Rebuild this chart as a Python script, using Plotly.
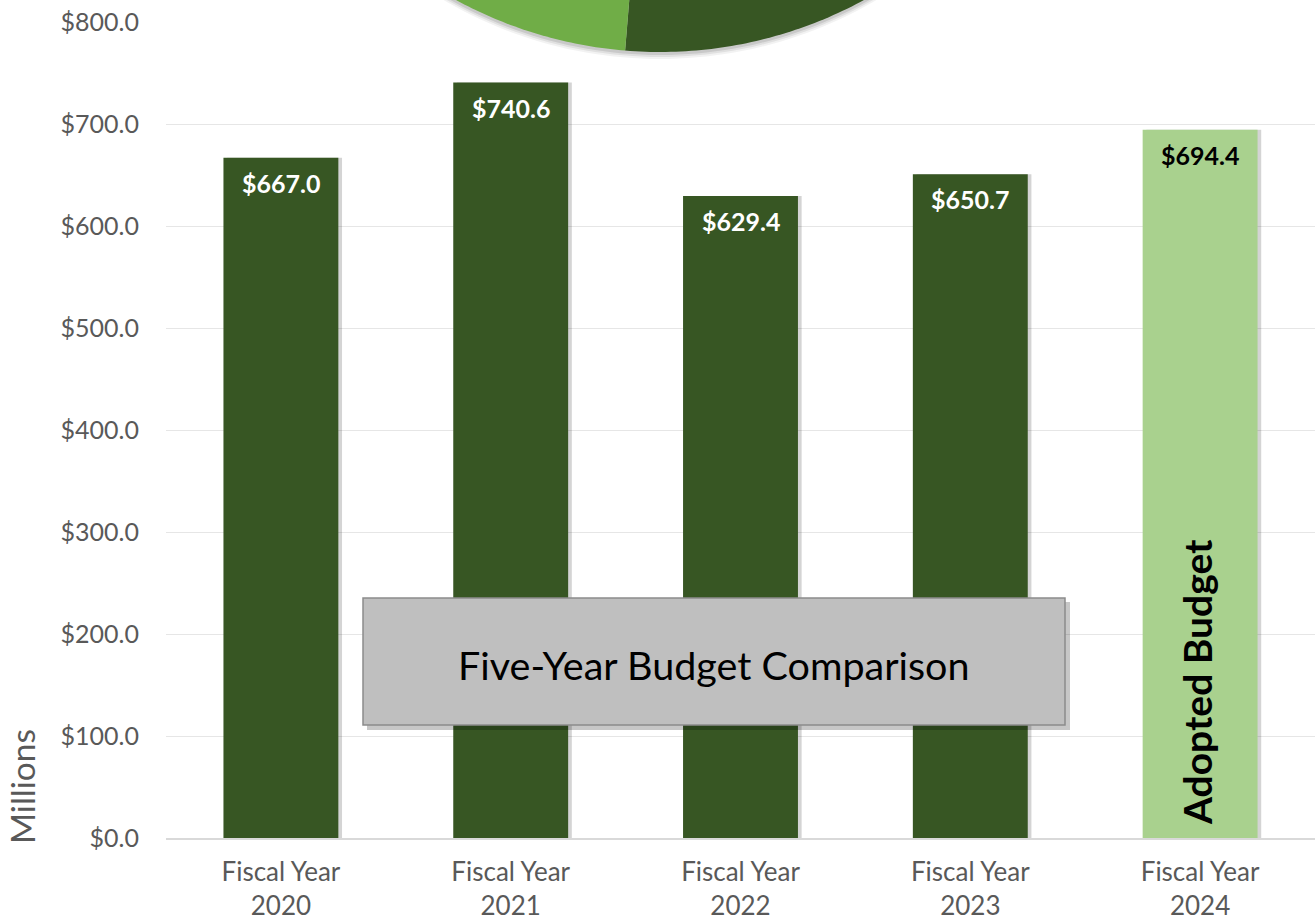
import math
import plotly.graph_objects as go

# ---- data ----
categories = ["Fiscal Year<br>2020", "Fiscal Year<br>2021", "Fiscal Year<br>2022",
              "Fiscal Year<br>2023", "Fiscal Year<br>2024"]
budget_millions = [667.0, 740.6, 629.4, 650.7, 694.4]
value_labels = ["$667.0", "$740.6", "$629.4", "$650.7", "$694.4"]
bar_colors = ["#375623", "#375623", "#375623", "#375623", "#A9D18E"]
label_colors = ["white", "white", "white", "white", "black"]
y_tick_vals = [0, 100, 200, 300, 400, 500, 600, 700, 800]
y_tick_text = ["$0.0", "$100.0", "$200.0", "$300.0", "$400.0", "$500.0",
               "$600.0", "$700.0", "$800.0"]
chart_title = "Five-Year Budget Comparison"
highlight_text = "Adopted Budget"
axis_title = "Millions"

# ---- layout geometry ----
W, H = 1315, 920
ML, MR, MT, MB = 166, 0, 22, 82
PW, PH = W - ML - MR, H - MT - MB
FONT = "Lato"


def px_to_paper(px, py):
    return (px - ML) / PW, (H - MB - py) / PH


fig = go.Figure()

# bar shadows
fig.add_trace(go.Bar(
    x=categories, y=budget_millions, width=0.5, offset=-0.25 + 0.016,
    marker=dict(color="rgba(0,0,0,0.17)", line=dict(width=0)),
    hoverinfo="skip", showlegend=False,
))
fig.add_trace(go.Bar(
    x=categories, y=budget_millions, width=0.5, offset=-0.25,
    marker=dict(color=bar_colors, line=dict(width=0)),
    showlegend=False,
))

# value labels
for c, v, t, col in zip(categories, budget_millions, value_labels, label_colors):
    fig.add_annotation(x=c, y=v, text="<b>" + t + "</b>", showarrow=False,
                       yanchor="top", yshift=-8,
                       font=dict(family=FONT, size=25, color=col))

# "Adopted Budget" vertical label in last bar
fig.add_annotation(x=categories[-1], y=0, text="<b>" + highlight_text + "</b>",
                   showarrow=False, textangle=-90, yanchor="bottom", yshift=11,
                   xshift=-3, font=dict(family=FONT, size=39, color="black"))

# Decorative pie (partially visible at top)
cx, cy, r = 660, -374, 426
div_ang = math.degrees(math.atan2(426, -35))


def wedge_path(a0, a1, dx=0, dy=0, rr=r):
    pts = []
    x0, y0 = px_to_paper(cx + dx, cy + dy)
    pts.append((x0, y0))
    n = 80
    for i in range(n + 1):
        a = math.radians(a0 + (a1 - a0) * i / n)
        pts.append(px_to_paper(cx + dx + rr * math.cos(a), cy + dy + rr * math.sin(a)))
    return "M " + " L ".join(f"{x:.5f},{y:.5f}" for x, y in pts) + " Z"


# shadow
for k, op in [(6, 0.05), (4, 0.07), (2, 0.10)]:
    fig.add_shape(type="path", xref="paper", yref="paper",
                  path=wedge_path(40, 140, dx=0, dy=k, rr=r + 1),
                  fillcolor=f"rgba(0,0,0,{op})", line=dict(width=0), layer="above")
fig.add_shape(type="path", xref="paper", yref="paper", path=wedge_path(40, div_ang),
              fillcolor="#375623", line=dict(width=0), layer="above")
fig.add_shape(type="path", xref="paper", yref="paper", path=wedge_path(div_ang, 140),
              fillcolor="#70AD47", line=dict(width=0), layer="above")

# Title box with shadow
bx0, by0 = px_to_paper(363, 725)
bx1, by1 = px_to_paper(1065, 598)
sx0, sy0 = px_to_paper(367, 730)
sx1, sy1 = px_to_paper(1070, 602)
fig.add_shape(type="rect", xref="paper", yref="paper", x0=sx0, y0=sy0, x1=sx1, y1=sy1,
              fillcolor="rgba(0,0,0,0.22)", line=dict(width=0), layer="above")
fig.add_shape(type="rect", xref="paper", yref="paper", x0=bx0, y0=by0, x1=bx1, y1=by1,
              fillcolor="#BFBFBF", line=dict(color="#8C8C8C", width=1.5), layer="above")
tx, ty = px_to_paper(714, 664)
fig.add_annotation(x=tx, y=ty, xref="paper", yref="paper", text=chart_title,
                   xanchor="center", yanchor="middle",
                   showarrow=False, font=dict(family=FONT, size=39.5, color="black"))

# axis title
ax, ay = px_to_paper(22, 787)
fig.add_annotation(x=ax, y=ay, xref="paper", yref="paper", text=axis_title,
                   xanchor="center", yanchor="middle",
                   showarrow=False, textangle=-90,
                   font=dict(family=FONT, size=33.5, color="#595959"))

fig.update_layout(
    width=W, height=H,
    margin=dict(l=ML, r=MR, t=MT, b=MB, autoexpand=False),
    paper_bgcolor="white", plot_bgcolor="white",
    barmode="overlay", showlegend=False,
    font=dict(family=FONT, color="#595959"),
    xaxis=dict(showgrid=False, showline=True, linecolor="#D9D9D9", linewidth=1.5,
               ticks="", ticklabelstandoff=10, automargin=False,
               tickfont=dict(family=FONT, size=26, color="#595959"),
               range=[-0.5, 4.5]),
    yaxis=dict(range=[0, 800], tickvals=y_tick_vals, ticktext=y_tick_text,
               showgrid=True, gridcolor="#E6E6E6", gridwidth=1, zeroline=False,
               showline=False, ticks="", ticklabelstandoff=26, automargin=False,
               tickfont=dict(family=FONT, size=25, color="#595959")),
)

fig.write_html("out.html", config={"displayModeBar": False},
               post_script="document.body.style.margin='0';")
